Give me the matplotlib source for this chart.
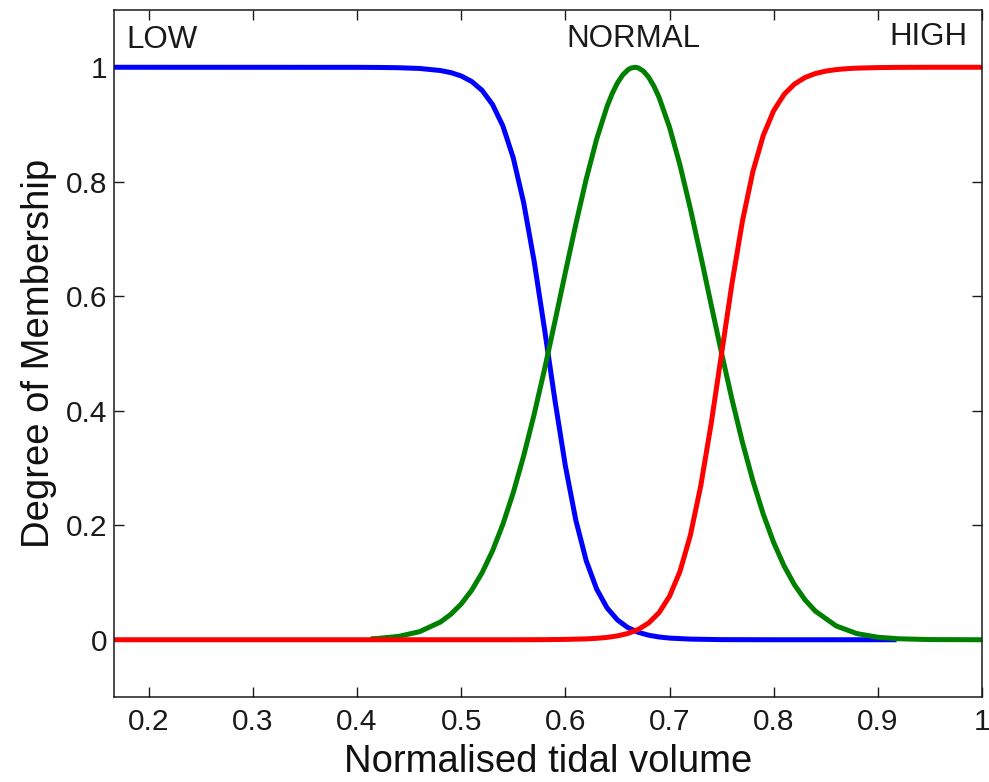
import matplotlib
matplotlib.use("Agg")
import matplotlib.pyplot as plt

plt.rcParams["font.family"] = ["Liberation Sans", "DejaVu Sans"]

# Membership functions of the normalised tidal volume
low_x = [1/6, 0.40, 0.42, 0.44, 0.46, 0.48, 0.49, 0.50, 0.51, 0.52, 0.53,
         0.54, 0.55, 0.56, 0.57, 0.58, 0.59, 0.60, 0.61, 0.62, 0.63, 0.64,
         0.65, 0.66, 0.67, 0.68, 0.69, 0.70, 0.72, 0.75, 0.80, 0.918]
low_y = [1.0, 0.9999, 0.9997, 0.9992, 0.9979, 0.9943, 0.9907, 0.9848,
         0.9752, 0.9597, 0.9352, 0.8975, 0.8416, 0.7631, 0.6615, 0.5424,
         0.4182, 0.3037, 0.2092, 0.1382, 0.0887, 0.0557, 0.0346, 0.0212,
         0.0130, 0.0079, 0.0048, 0.0029, 0.0011, 0.0002, 0.0, 0.0]

normal_x = [0.413, 0.42, 0.44, 0.46, 0.48, 0.49, 0.50, 0.51, 0.52, 0.53,
            0.54, 0.55, 0.56, 0.57, 0.58, 0.59, 0.60, 0.61, 0.62, 0.63,
            0.64, 0.645, 0.65, 0.655, 0.66, 0.663, 0.667, 0.67, 0.675, 0.68,
            0.685, 0.69, 0.70, 0.71, 0.72,
            0.73, 0.74, 0.75, 0.76, 0.77, 0.78, 0.79, 0.80, 0.81, 0.82,
            0.83, 0.84, 0.86, 0.88, 0.90, 0.92, 0.95, 1.0]
normal_y = [0.0016, 0.0023, 0.0059, 0.0141, 0.0309, 0.0444, 0.0625, 0.0864,
            0.1169, 0.1550, 0.2017, 0.2571, 0.3214, 0.3935, 0.4725, 0.5562,
            0.6417, 0.7256, 0.8045, 0.8743, 0.9314, 0.9541, 0.9726, 0.9864,
            0.9955, 0.9986, 1.0, 0.9989, 0.9932, 0.9825, 0.9671, 0.9473,
            0.8953, 0.8294, 0.7532, 0.6705, 0.5851,
            0.5005, 0.4197, 0.3449, 0.2779, 0.2194, 0.1699, 0.1289, 0.0959,
            0.0699, 0.0500, 0.0241, 0.0107, 0.0044, 0.0017, 0.0003, 0.0]

high_x = [1/6, 0.55, 0.58, 0.60, 0.62, 0.63, 0.64, 0.65, 0.66, 0.67, 0.68,
          0.69, 0.70, 0.71, 0.72, 0.73, 0.74, 0.75, 0.76, 0.77, 0.78, 0.79,
          0.80, 0.81, 0.82, 0.83, 0.84, 0.85, 0.86, 0.87, 0.88, 0.90, 0.92,
          0.95, 1.0]
high_y = [0.0, 0.0, 0.0002, 0.0006, 0.0015, 0.0025, 0.0041, 0.0067, 0.0110,
          0.0180, 0.0293, 0.0474, 0.0759, 0.1192, 0.1824, 0.2689, 0.3775,
          0.5, 0.6225, 0.7311, 0.8176, 0.8808, 0.9241, 0.9526, 0.9707,
          0.9820, 0.9890, 0.9933, 0.9959, 0.9975, 0.9985, 0.9994, 0.9998,
          1.0, 1.0]

set_labels = ["LOW", "NORMAL", "HIGH"]
x_ticks = [0.2, 0.3, 0.4, 0.5, 0.6, 0.7, 0.8, 0.9, 1.0]
x_tick_labels = ["0.2", "0.3", "0.4", "0.5", "0.6", "0.7", "0.8", "0.9", "1"]
y_ticks = [0, 0.2, 0.4, 0.6, 0.8, 1.0]
y_tick_labels = ["0", "0.2", "0.4", "0.6", "0.8", "1"]

fig = plt.figure(figsize=(9.89, 7.82), dpi=100)
ax = fig.add_axes([0.1153, 0.1087, 0.8776, 0.8785])

lw = 3.6
ax.plot(low_x, low_y, color=(0, 0, 1), lw=lw, solid_capstyle="butt")
ax.plot(normal_x, normal_y, color=(0, 0.5, 0), lw=lw, solid_capstyle="butt")
ax.plot(high_x, high_y, color=(1, 0, 0), lw=lw, solid_capstyle="butt")

ax.set_xlim(1/6, 1.0)
ax.set_ylim(-0.1, 1.1)
ax.set_xticks(x_ticks)
ax.set_xticklabels(x_tick_labels)
ax.set_yticks(y_ticks)
ax.set_yticklabels(y_tick_labels)

ax.tick_params(direction="in", length=7.5, width=1.0, labelsize=21.5,
               top=True, right=True, colors="#1a1a1a")
ax.tick_params(axis="x", pad=8)
ax.tick_params(axis="y", pad=5)
for sp in ax.spines.values():
    sp.set_linewidth(1.1)
    sp.set_color("#1a1a1a")

ax.set_xlabel("Normalised tidal volume", fontsize=27.5, color="#111111",
              labelpad=6)
ax.set_ylabel("Degree of Membership", fontsize=27.5, color="#111111",
              labelpad=6)

ax.text(0.1788, 1.047, set_labels[0], fontsize=22.5, ha="left", va="center",
        color="#1a1a1a")
ax.text(0.665, 1.049, set_labels[1], fontsize=22.5, ha="center", va="center",
        color="#1a1a1a")
ax.text(0.986, 1.053, set_labels[2], fontsize=22.5, ha="right", va="center",
        color="#1a1a1a")

fig.savefig("out.png", dpi=100)
